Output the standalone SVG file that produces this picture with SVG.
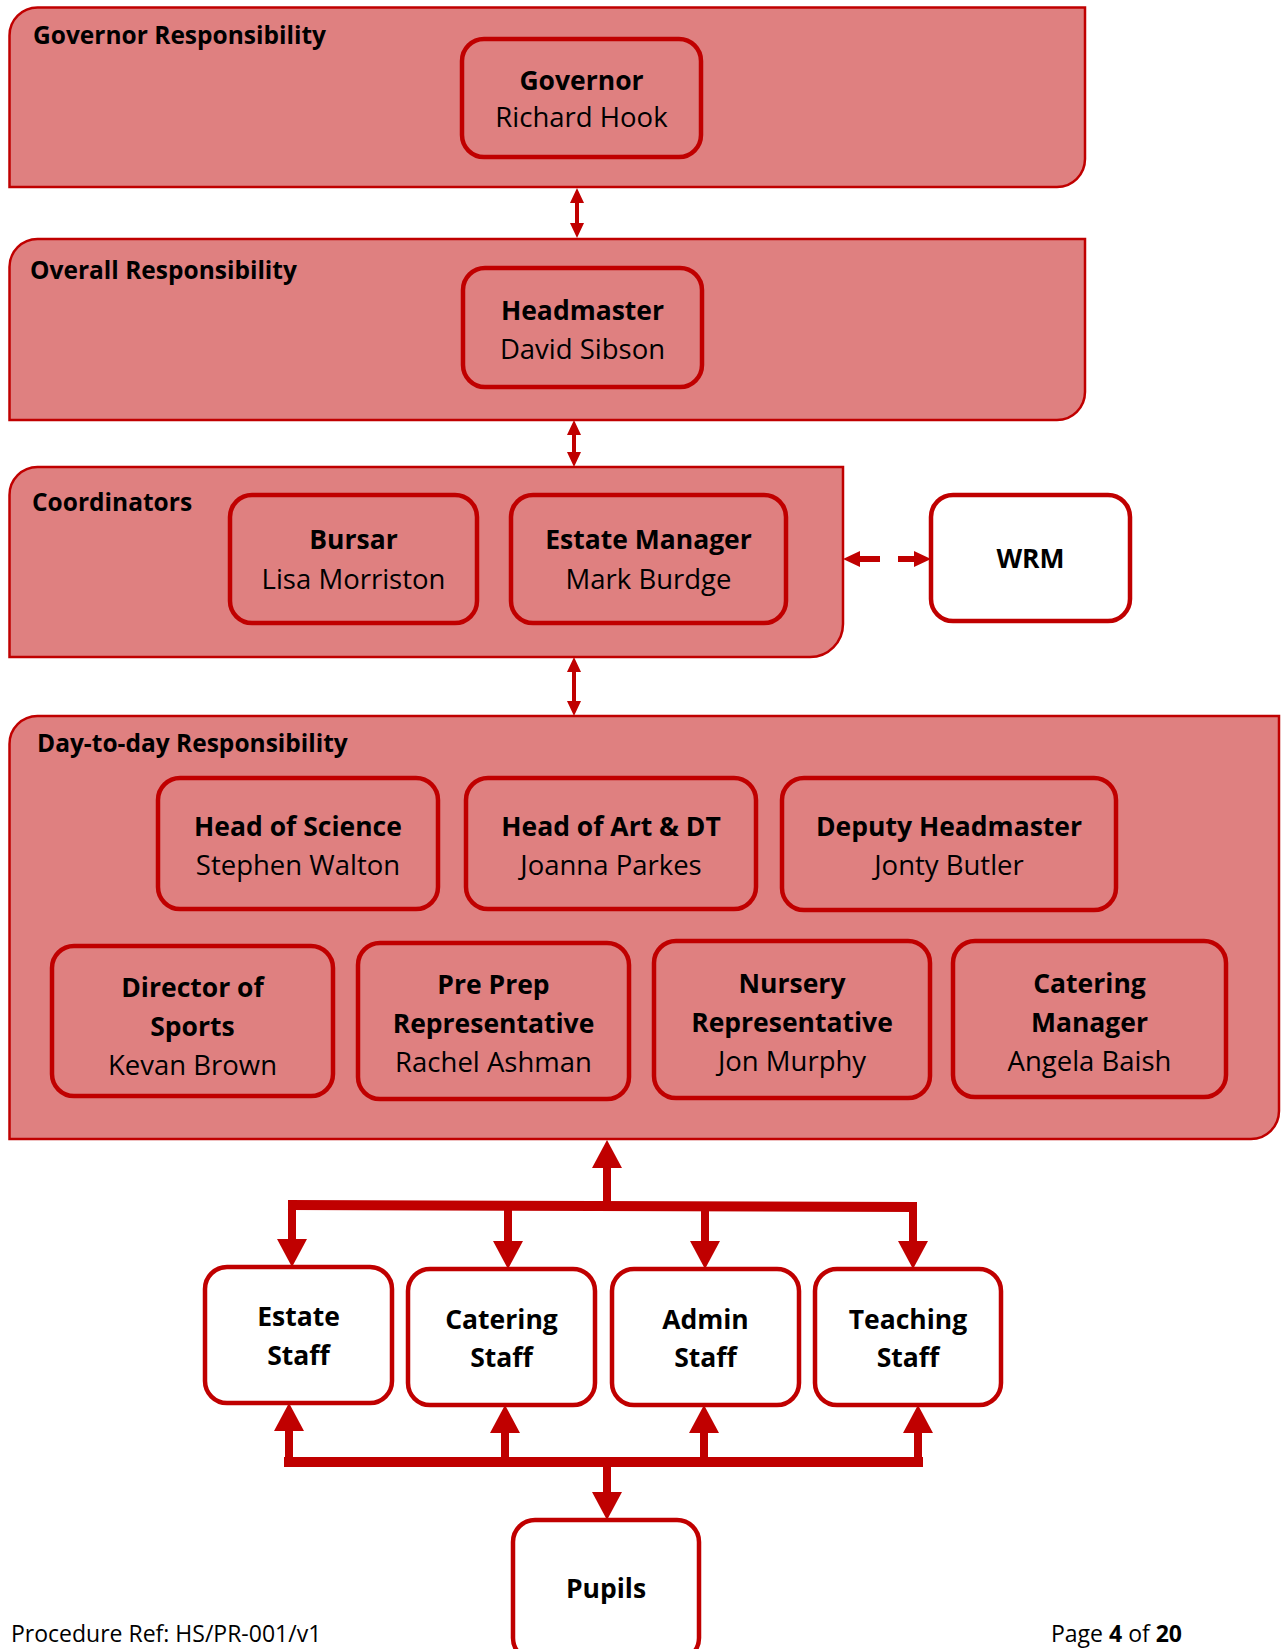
<svg xmlns="http://www.w3.org/2000/svg" width="1282" height="1649" viewBox="0 0 1282 1649">
<style>
.panel{fill:#DF8080;stroke:#C00000;stroke-width:2.5}
.node{fill:#DF8080;stroke:#C00000;stroke-width:4.5}
.wnode{fill:#FFFFFF;stroke:#C00000;stroke-width:4.5}
text{font-family:"Open Sans","Liberation Sans",sans-serif;fill:#000}
.lbl{font-size:24.5px;font-weight:bold}
.t{font-size:26.5px;font-weight:bold;text-anchor:middle}
.n{font-size:27.5px;text-anchor:middle}
.foot{font-size:23px}
.thin{stroke:#C00000;stroke-width:4;fill:none}
.thick{stroke:#C00000;stroke-width:8;fill:none}
.bar{stroke:#C00000;stroke-width:10;fill:none}
.dash{stroke:#C00000;stroke-width:6;fill:none;stroke-dasharray:20 18}
</style>
<defs>
<marker id="ahThin" viewBox="0 0 15 14" refX="0" refY="7" markerWidth="15" markerHeight="14" markerUnits="userSpaceOnUse" orient="auto-start-reverse"><path d="M0,0 L15,7 L0,14 Z" fill="#C00000"/></marker>
<marker id="ahBig" viewBox="0 0 28 30" refX="0" refY="15" markerWidth="28" markerHeight="30" markerUnits="userSpaceOnUse" orient="auto-start-reverse"><path d="M0,0 L28,15 L0,30 Z" fill="#C00000"/></marker>
<marker id="ahDash" viewBox="0 0 17 16" refX="0" refY="8" markerWidth="17" markerHeight="16" markerUnits="userSpaceOnUse" orient="auto-start-reverse"><path d="M0,0 L17,8 L0,16 Z" fill="#C00000"/></marker>
</defs>

<g id="panel-governor">
<path class="panel" d="M9.5,35.5 A28,28 0 0 1 37.5,7.5 H1085 V159 A28,28 0 0 1 1057,187 H9.5 Z"/>
<text class="lbl" x="33" y="44">Governor Responsibility</text>
</g>
<g id="panel-overall">
<path class="panel" d="M9.5,267 A28,28 0 0 1 37.5,239 H1085 V392 A28,28 0 0 1 1057,420 H9.5 Z"/>
<text class="lbl" x="30" y="279">Overall Responsibility</text>
</g>
<g id="panel-coordinators">
<path class="panel" d="M9.5,495 A28,28 0 0 1 37.5,467 H843 V624 A33,33 0 0 1 810,657 H9.5 Z"/>
<text class="lbl" x="32" y="511">Coordinators</text>
</g>
<g id="panel-daytoday">
<path class="panel" d="M9.5,744 A28,28 0 0 1 37.5,716 H1279 V1111 A28,28 0 0 1 1251,1139 H9.5 Z"/>
<text class="lbl" x="37" y="752">Day-to-day Responsibility</text>
</g>

<g id="node-governor">
<rect class="node" x="462" y="39" width="239" height="118" rx="22"/>
<text class="t" x="581.5" y="90">Governor</text>
<text class="n" x="581.5" y="127">Richard Hook</text>
</g>
<g id="node-headmaster">
<rect class="node" x="463" y="268" width="239" height="119" rx="22"/>
<text class="t" x="582.5" y="320">Headmaster</text>
<text class="n" x="582.5" y="359">David Sibson</text>
</g>
<g id="node-bursar">
<rect class="node" x="230" y="495" width="247" height="128" rx="22"/>
<text class="t" x="353.5" y="549">Bursar</text>
<text class="n" x="353.5" y="589">Lisa Morriston</text>
</g>
<g id="node-estate-manager">
<rect class="node" x="511" y="495" width="275" height="128" rx="22"/>
<text class="t" x="648.5" y="549">Estate Manager</text>
<text class="n" x="648.5" y="589">Mark Burdge</text>
</g>
<g id="node-wrm">
<rect class="wnode" x="931" y="495" width="199" height="126" rx="22"/>
<text class="t" x="1030.5" y="568">WRM</text>
</g>

<g id="node-head-science">
<rect class="node" x="158" y="778" width="280" height="131" rx="22"/>
<text class="t" x="298" y="836">Head of Science</text>
<text class="n" x="298" y="875">Stephen Walton</text>
</g>
<g id="node-head-art">
<rect class="node" x="466" y="778" width="290" height="131" rx="22"/>
<text class="t" x="611" y="836">Head of Art &amp; DT</text>
<text class="n" x="611" y="875">Joanna Parkes</text>
</g>
<g id="node-deputy">
<rect class="node" x="782" y="778" width="334" height="132" rx="22"/>
<text class="t" x="949" y="836">Deputy Headmaster</text>
<text class="n" x="949" y="875">Jonty Butler</text>
</g>
<g id="node-director-sports">
<rect class="node" x="52" y="946" width="281" height="150" rx="22"/>
<text class="t" x="192.5" y="997">Director of</text>
<text class="t" x="192.5" y="1036">Sports</text>
<text class="n" x="192.5" y="1075">Kevan Brown</text>
</g>
<g id="node-preprep">
<rect class="node" x="358" y="943" width="271" height="156" rx="22"/>
<text class="t" x="493.5" y="994">Pre Prep</text>
<text class="t" x="493.5" y="1033">Representative</text>
<text class="n" x="493.5" y="1072">Rachel Ashman</text>
</g>
<g id="node-nursery">
<rect class="node" x="654" y="941" width="276" height="157" rx="22"/>
<text class="t" x="792" y="993">Nursery</text>
<text class="t" x="792" y="1032">Representative</text>
<text class="n" x="792" y="1071">Jon Murphy</text>
</g>
<g id="node-catering-manager">
<rect class="node" x="953" y="941" width="273" height="156" rx="22"/>
<text class="t" x="1089.5" y="993">Catering</text>
<text class="t" x="1089.5" y="1032">Manager</text>
<text class="n" x="1089.5" y="1071">Angela Baish</text>
</g>

<g id="node-estate-staff">
<rect class="wnode" x="205" y="1267" width="187" height="136" rx="22"/>
<text class="t" x="298.5" y="1326">Estate</text>
<text class="t" x="298.5" y="1365">Staff</text>
</g>
<g id="node-catering-staff">
<rect class="wnode" x="408" y="1269" width="187" height="136" rx="22"/>
<text class="t" x="501.5" y="1329">Catering</text>
<text class="t" x="501.5" y="1367">Staff</text>
</g>
<g id="node-admin-staff">
<rect class="wnode" x="612" y="1269" width="187" height="136" rx="22"/>
<text class="t" x="705.5" y="1329">Admin</text>
<text class="t" x="705.5" y="1367">Staff</text>
</g>
<g id="node-teaching-staff">
<rect class="wnode" x="815" y="1269" width="186" height="136" rx="22"/>
<text class="t" x="908" y="1329">Teaching</text>
<text class="t" x="908" y="1367">Staff</text>
</g>
<g id="node-pupils">
<rect class="wnode" x="513" y="1520" width="186" height="140" rx="22"/>
<text class="t" x="606" y="1598">Pupils</text>
</g>

<g id="connectors">
<line class="thin" x1="577" y1="203" x2="577" y2="223" marker-start="url(#ahThin)" marker-end="url(#ahThin)"/>
<line class="thin" x1="574" y1="435" x2="574" y2="452" marker-start="url(#ahThin)" marker-end="url(#ahThin)"/>
<line class="thin" x1="574" y1="672" x2="574" y2="701" marker-start="url(#ahThin)" marker-end="url(#ahThin)"/>
<line class="dash" x1="860" y1="559" x2="914" y2="559" marker-start="url(#ahDash)" marker-end="url(#ahDash)"/>

<line class="thick" x1="607" y1="1210" x2="607" y2="1168" marker-end="url(#ahBig)"/>
<line class="bar" x1="288" y1="1205" x2="917" y2="1207"/>
<line class="thick" x1="292" y1="1203" x2="292" y2="1239" marker-end="url(#ahBig)"/>
<line class="thick" x1="508" y1="1204" x2="508" y2="1241" marker-end="url(#ahBig)"/>
<line class="thick" x1="705" y1="1204" x2="705" y2="1241" marker-end="url(#ahBig)"/>
<line class="thick" x1="913" y1="1205" x2="913" y2="1241" marker-end="url(#ahBig)"/>

<line class="thick" x1="289" y1="1466" x2="289" y2="1431" marker-end="url(#ahBig)"/>
<line class="thick" x1="505" y1="1466" x2="505" y2="1433" marker-end="url(#ahBig)"/>
<line class="thick" x1="704" y1="1466" x2="704" y2="1433" marker-end="url(#ahBig)"/>
<line class="thick" x1="918" y1="1466" x2="918" y2="1433" marker-end="url(#ahBig)"/>
<line class="bar" x1="284" y1="1462" x2="923" y2="1462"/>
<line class="thick" x1="607" y1="1458" x2="607" y2="1492" marker-end="url(#ahBig)"/>
</g>

<g id="footer">
<text class="foot" x="11" y="1642">Procedure Ref: HS/PR-001/v1</text>
<text class="foot" x="1051" y="1642">Page <tspan font-weight="bold">4</tspan> of <tspan font-weight="bold">20</tspan></text>
</g>
</svg>
